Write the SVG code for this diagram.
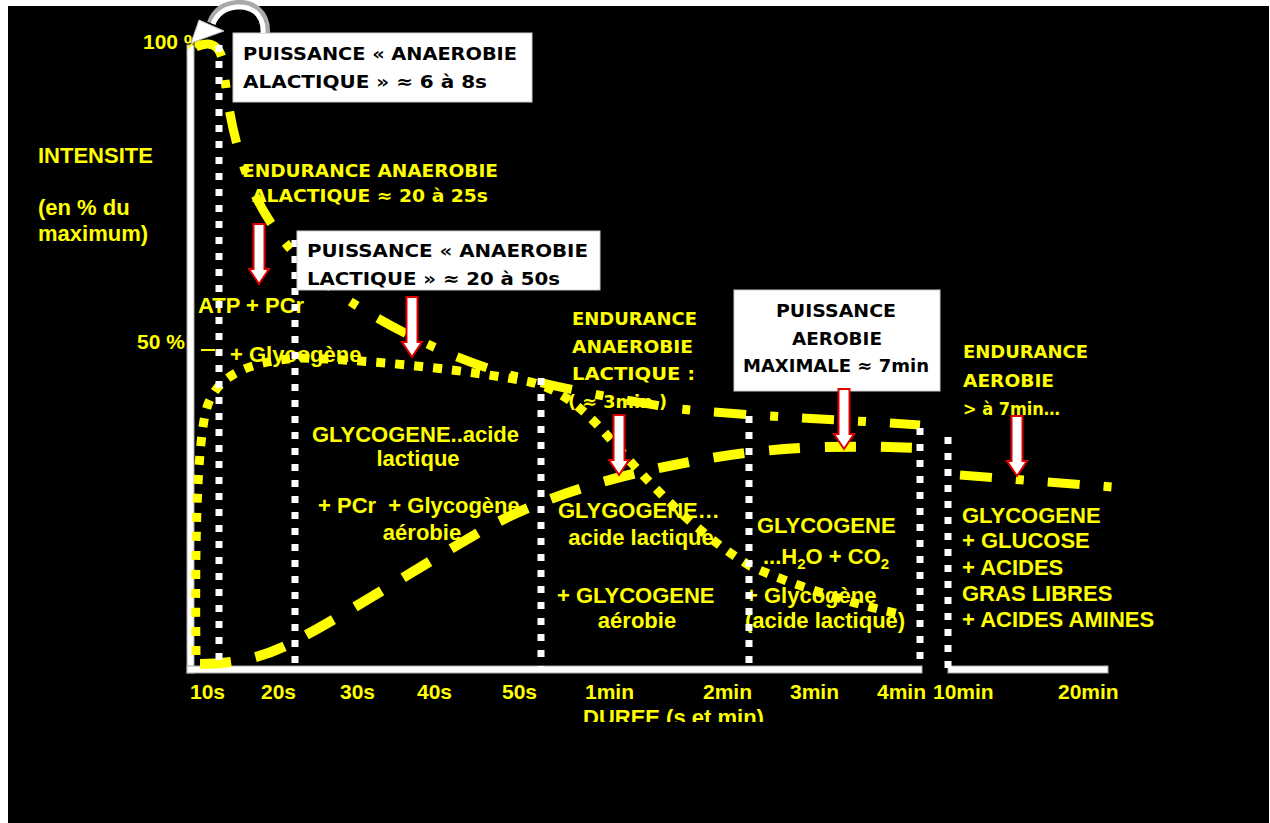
<svg xmlns="http://www.w3.org/2000/svg" width="1270" height="823" viewBox="0 0 1270 823">
<style>
.y{fill:#ffff00;font-family:"Liberation Sans",Arial,sans-serif;font-weight:bold;font-size:22px}
.ax{font-size:21px}
.c{fill:#ffff00;font-family:"DejaVu Sans",sans-serif;font-weight:bold;font-size:18px}
.k{fill:#000;font-family:"DejaVu Sans",sans-serif;font-weight:bold;font-size:18px}
.wd{fill:none;stroke:#fff;stroke-width:7;stroke-dasharray:7 9}
.box{fill:#fff;stroke:#ccc;stroke-width:1}
.ar{fill:#fff;stroke:#e00000;stroke-width:2}
.dashdot{fill:none;stroke:#ffff00;stroke-width:9;stroke-dasharray:32 24 8 24}
.dot{fill:none;stroke:#ffff00;stroke-width:9;stroke-dasharray:9 10}
.dash{fill:none;stroke:#ffff00;stroke-width:10;stroke-dasharray:31 25}
</style>
<defs>
<path id="arr" d="M-5.5,0 H5.5 V45 H10 L0,60 L-10,45 H-5.5 Z"/>
<clipPath id="clipDur"><rect x="500" y="690" width="400" height="32"/></clipPath>
</defs>
<rect x="0" y="0" width="1270" height="823" fill="#fff"/>
<rect x="8" y="6" width="1261" height="817" fill="#000"/>

<g id="axes">
<rect x="187" y="45" width="7" height="628" fill="#fff" stroke="#aaa" stroke-width="1"/>
<rect x="187" y="666" width="735" height="7" fill="#fff" stroke="#aaa" stroke-width="1"/>
<rect x="948" y="666" width="160" height="7" fill="#fff" stroke="#aaa" stroke-width="1"/>
</g>

<g id="labels-axis">
<text class="y ax" x="143" y="49">100 %</text>
<text class="y" x="38" y="163">INTENSITE</text>
<text class="y" x="38" y="215">(en % du</text>
<text class="y" x="38" y="241">maximum)</text>
<text class="y ax" x="137" y="349">50 %</text>
<line x1="201" y1="350" x2="215" y2="350" stroke="#ffff00" stroke-width="2"/>
<text class="y ax" x="190" y="699">10s</text>
<text class="y ax" x="261" y="699">20s</text>
<text class="y ax" x="340" y="699">30s</text>
<text class="y ax" x="417" y="699">40s</text>
<text class="y ax" x="502" y="699">50s</text>
<text class="y ax" x="585" y="699">1min</text>
<text class="y ax" x="703" y="699">2min</text>
<text class="y ax" x="790" y="699">3min</text>
<text class="y ax" x="877" y="699">4min</text>
<text class="y ax" x="933" y="699">10min</text>
<text class="y ax" x="1058" y="699">20min</text>
<text class="y" x="583" y="725" clip-path="url(#clipDur)">DUREE (s et min)</text>
</g>

<g id="zone-texts">
<text class="c" x="242" y="177" textLength="256" lengthAdjust="spacingAndGlyphs">ENDURANCE ANAEROBIE</text>
<text class="c" x="252" y="202" textLength="236" lengthAdjust="spacingAndGlyphs">ALACTIQUE ≈ 20 à 25s</text>
<text class="c" x="572" y="325" textLength="125" lengthAdjust="spacingAndGlyphs">ENDURANCE</text>
<text class="c" x="572" y="353" textLength="121" lengthAdjust="spacingAndGlyphs">ANAEROBIE</text>
<text class="c" x="572" y="380" textLength="123" lengthAdjust="spacingAndGlyphs">LACTIQUE :</text>
<text class="c" x="568" y="408" textLength="99" lengthAdjust="spacingAndGlyphs">( ≈ 3min )</text>
<text class="c" x="963" y="358" textLength="125" lengthAdjust="spacingAndGlyphs">ENDURANCE</text>
<text class="c" x="963" y="387" textLength="91" lengthAdjust="spacingAndGlyphs">AEROBIE</text>
<text class="c" x="963" y="415" textLength="97" lengthAdjust="spacingAndGlyphs">&gt; à 7min…</text>

<text class="y" x="198" y="313">ATP + PCr</text>
<text class="y" x="230" y="362">+ Glycogène</text>
<text class="y" x="312" y="442">GLYCOGENE..acide</text>
<text class="y" x="418" y="466" text-anchor="middle">lactique</text>
<text class="y" x="318" y="513" xml:space="preserve">+ PCr  + Glycogène</text>
<text class="y" x="422" y="540" text-anchor="middle">aérobie</text>
<text class="y" x="558" y="518">GLYGOGENE…</text>
<text class="y" x="641" y="545" text-anchor="middle">acide lactique</text>
<text class="y" x="557" y="603">+ GLYCOGENE</text>
<text class="y" x="637" y="628" text-anchor="middle">aérobie</text>
<text class="y" x="757" y="533">GLYCOGENE</text>
<text class="y" x="763" y="564">...H<tspan font-size="15" dy="5">2</tspan><tspan dy="-5">O + CO</tspan><tspan font-size="15" dy="5">2</tspan></text>
<text class="y" x="745" y="603">+ Glycogène</text>
<text class="y" x="745" y="628">(acide lactique)</text>
<text class="y" x="962" y="523">GLYCOGENE</text>
<text class="y" x="962" y="548">+ GLUCOSE</text>
<text class="y" x="962" y="575">+ ACIDES</text>
<text class="y" x="962" y="601">GRAS LIBRES</text>
<text class="y" x="962" y="627">+ ACIDES AMINES</text>
</g>

<g id="connectors">
<path class="dashdot" d="M196,47 C212,40 222,45 224,70 C228,110 235,150 255,195 C275,235 300,265 345,298 C390,328 450,358 510,375 C560,388 620,400 680,409 C760,417 850,420 920,425"/>
<path class="dot" d="M196,655 C195,560 196,460 205,415 C212,380 240,362 300,358 C380,360 480,372 530,382 C565,390 590,415 620,450 C660,495 700,535 750,566 C800,588 860,606 905,615"/>
<path class="dash" d="M200,664 C240,664 270,655 297,640 C350,612 430,560 490,526 C540,500 600,478 700,460 C760,449 820,444 920,448"/>
<path class="dashdot" d="M960,475 L1112,487"/>
</g>

<g id="separators">
<path class="wd" d="M219,45 V668"/>
<path class="wd" d="M295,240 V668"/>
<path class="wd" d="M541,378 V668"/>
<path class="wd" d="M749,416 V668"/>
<path class="wd" d="M920,428 V668"/>
<path class="wd" d="M948,437 V672"/>
</g>

<g id="box-alactique">
<rect class="box" x="233" y="33" width="299" height="69"/>
<text class="k" x="243" y="60" textLength="274" lengthAdjust="spacingAndGlyphs">PUISSANCE « ANAEROBIE</text>
<text class="k" x="243" y="88" textLength="244" lengthAdjust="spacingAndGlyphs">ALACTIQUE » ≈ 6 à 8s</text>
</g>
<g id="box-lactique">
<rect class="box" x="297" y="231" width="303" height="59"/>
<text class="k" x="307" y="257" textLength="281" lengthAdjust="spacingAndGlyphs">PUISSANCE « ANAEROBIE</text>
<text class="k" x="307" y="285" textLength="253" lengthAdjust="spacingAndGlyphs">LACTIQUE » ≈ 20 à 50s</text>
</g>
<g id="box-aerobie">
<rect class="box" x="734" y="290" width="206" height="101"/>
<text class="k" x="776" y="317" textLength="120" lengthAdjust="spacingAndGlyphs">PUISSANCE</text>
<text class="k" x="792" y="345" textLength="90" lengthAdjust="spacingAndGlyphs">AEROBIE</text>
<text class="k" x="743" y="372" textLength="186" lengthAdjust="spacingAndGlyphs">MAXIMALE ≈ 7min</text>
</g>

<g id="arrows">
<use href="#arr" class="ar" transform="translate(259,224)"/>
<use href="#arr" class="ar" transform="translate(412,297)"/>
<use href="#arr" class="ar" transform="translate(619,415)"/>
<use href="#arr" class="ar" transform="translate(844,389)"/>
<use href="#arr" class="ar" transform="translate(1017,416)"/>
</g>

<g id="curved-arrow">
<path d="M266,33 C267,12 252,3 237,4 C224,5 215,12 211,23" fill="none" stroke="#aaa" stroke-width="8"/>
<path d="M263,33 C264,13 250,6 237,7 C225,8 217,14 213,24" fill="none" stroke="#fff" stroke-width="5"/>
<polygon points="191,43 199,20 224,31" fill="#fff" stroke="#bbb" stroke-width="1"/>
</g>
</svg>
